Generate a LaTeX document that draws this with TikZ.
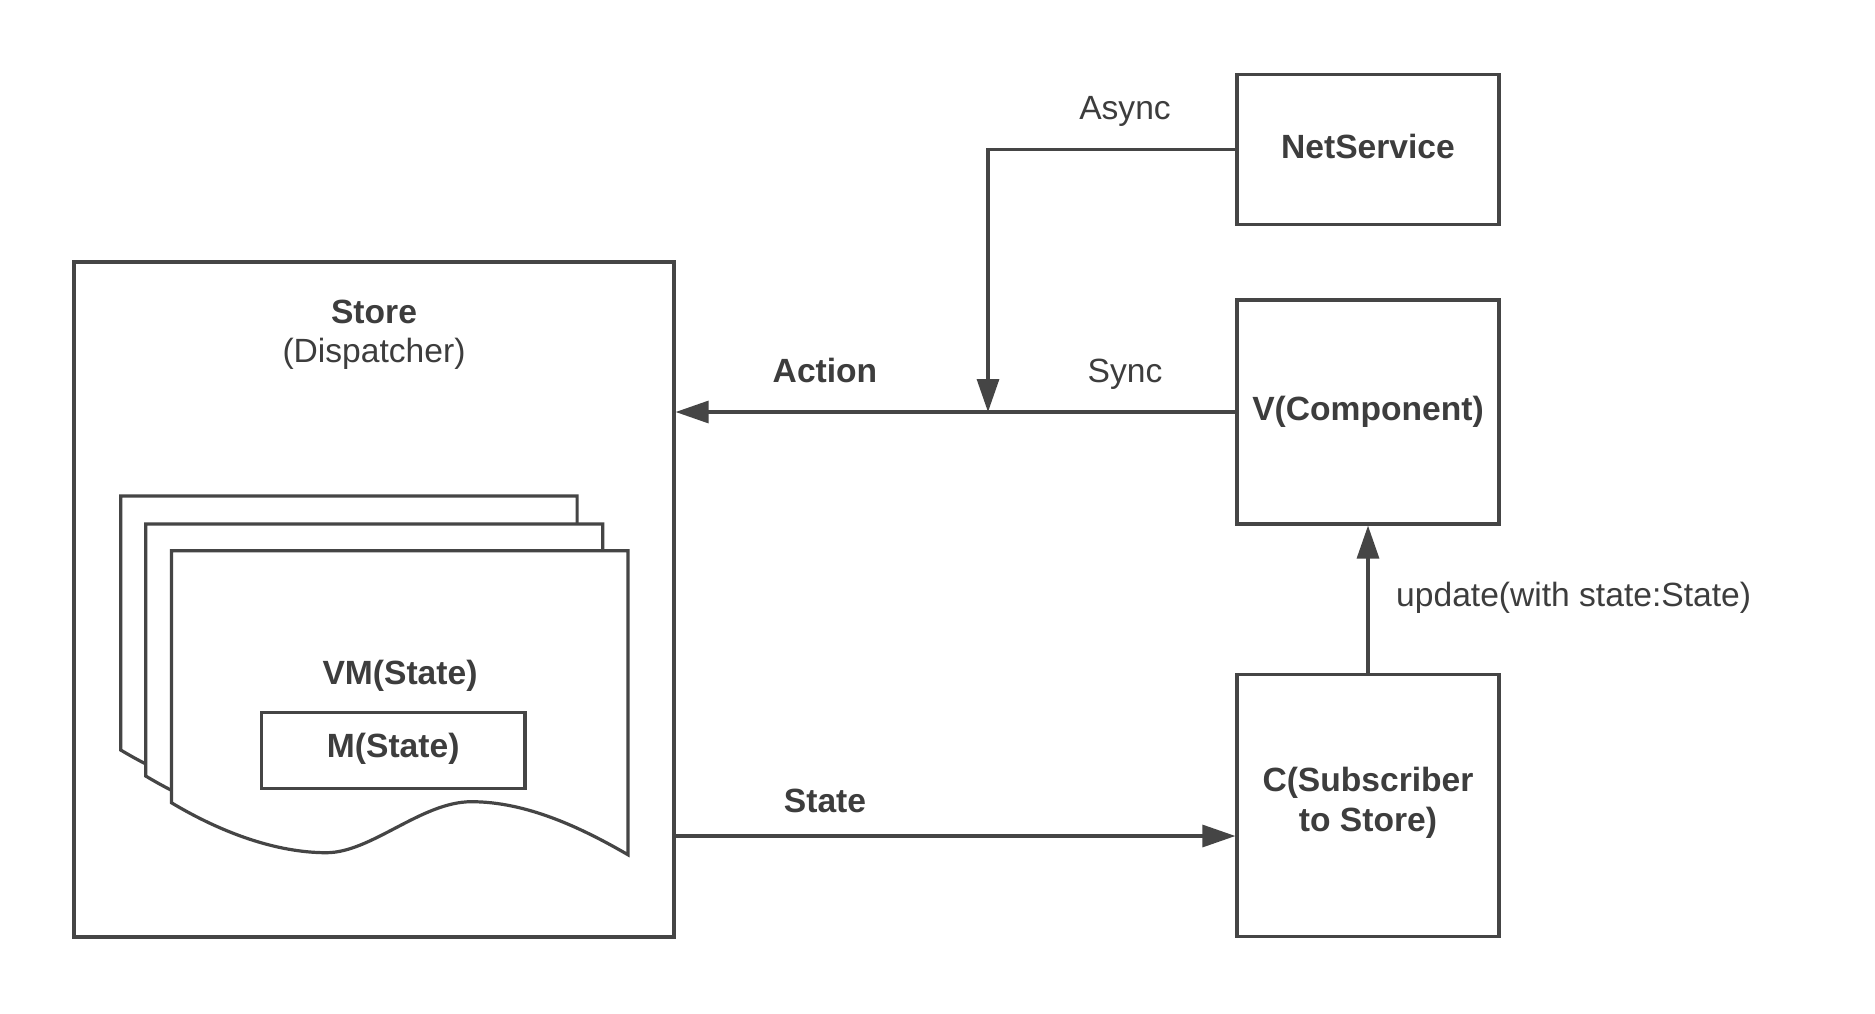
\documentclass[tikz,border=0pt]{standalone}
\usepackage{fontspec}
\setmainfont{Liberation Sans}
\usetikzlibrary{arrows.meta}
\definecolor{ln}{HTML}{454545}
\definecolor{tx}{HTML}{3D3D3D}
\begin{document}
\begin{tikzpicture}[x=1pt,y=-1pt,
  box/.style={draw=ln, line width=3.2pt, fill=white, inner sep=0pt, text=tx,
              font=\fontsize{33.6}{40}\selectfont\bfseries, align=center},
  conn/.style={draw=ln, line width=3.2pt},
  arr/.style={conn, -{Triangle[length=33pt,width=22pt]}},
  lbl/.style={text=tx, font=\fontsize{33.6}{40}\selectfont, inner sep=0pt, anchor=base},
  blbl/.style={lbl, font=\fontsize{33.6}{40}\selectfont\bfseries},
  sheet/.style={draw=ln, line width=3.2pt, fill=white, line join=miter}
]
\fill[white] (0,0) rectangle (1875,1013);
\useasboundingbox (0,0) rectangle (1875,1013);

% Store
\node[box, minimum width=600pt, minimum height=675pt] (store) at (374,599.5) {};
\node[blbl] (storet) at (374,323) {Store};
\node[lbl] (disp) at (374,362) {(Dispatcher)};

% stacked documents
\draw[sheet, shift={(120.7,750)}] (0,-254) -- (456.4,-254) -- (456.4,52)
  .. controls (410,25) and (355,-1) .. (300,-1)
  .. controls (250,-1) and (200,50) .. (155,50)
  .. controls (105,50) and (50,30) .. (0,0) -- cycle;
\draw[sheet, shift={(145.7,776)}] (0,-252) -- (457,-252) -- (457,52)
  .. controls (410,25) and (355,-1) .. (300,-1)
  .. controls (250,-1) and (200,50) .. (155,50)
  .. controls (105,50) and (50,30) .. (0,0) -- cycle;
\draw[sheet, shift={(171.4,802.7)}] (0,-252) -- (456.5,-252) -- (456.5,52)
  .. controls (410,25) and (355,-1) .. (300,-1)
  .. controls (250,-1) and (200,50) .. (155,50)
  .. controls (105,50) and (50,30) .. (0,0) -- cycle;
\node[blbl] (vm) at (400,684.5) {VM(State)};
\node[box, minimum width=263.6pt, minimum height=76pt, text depth=10pt] (m) at (393.2,750.3) {M(State)};

% right boxes
\node[box, minimum width=262pt, minimum height=150pt, text depth=7pt] (ns) at (1368,149.5) {NetService};
\node[box, minimum width=262pt, minimum height=224pt] (vc) at (1368,412) {V(Component)};
\node[box, minimum width=262pt, minimum height=262pt, text depth=12pt] (c) at (1368,805.5) {C(Subscriber\\to Store)};

% connectors
\draw[arr] (vc.west) -- (vc.west -| store.east);
\coordinate (j) at (988,412);
\draw[arr] (ns.west) -| (j);
\draw[arr] (c.north) -- (vc.south);
\coordinate (sout) at (674,836);
\draw[arr] (sout) -- (sout -| c.west);

% labels
\node[blbl] (actl) at (825,382) {Action};
\node[lbl] (syncl) at (1125,382) {Sync};
\node[lbl] (asyncl) at (1125,119) {Async};
\node[blbl] (statel) at (825,812) {State};
\node[lbl, anchor=base west] (updl) at (1396,606) {update(with state:State)};
\end{tikzpicture}
\end{document}
